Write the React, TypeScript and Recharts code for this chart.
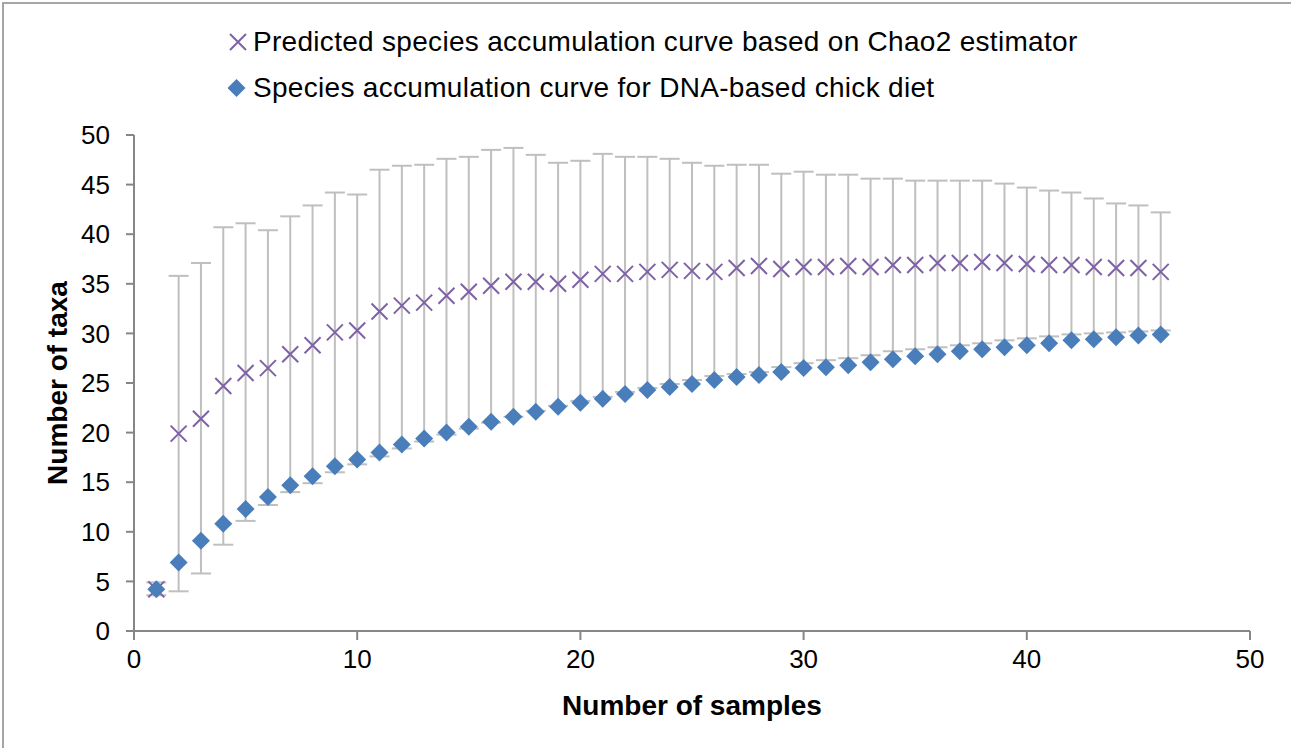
import { ScatterChart, Scatter, XAxis, YAxis, ErrorBar, Legend } from "recharts";

const samples = [
  1, 2, 3, 4, 5, 6, 7, 8, 9, 10, 11, 12, 13, 14, 15, 16, 17, 18, 19, 20, 21, 22, 23,
  24, 25, 26, 27, 28, 29, 30, 31, 32, 33, 34, 35, 36, 37, 38, 39, 40, 41, 42, 43, 44, 45, 46,
];

// observed taxa (diamonds)
const observed = [
  4.2, 6.9, 9.1, 10.8, 12.3, 13.5, 14.7, 15.6, 16.6, 17.3, 18.0, 18.8, 19.4, 20.0, 20.6, 21.1,
  21.6, 22.1, 22.6, 23.0, 23.4, 23.9, 24.3, 24.6, 24.9, 25.3, 25.6, 25.8, 26.1, 26.5, 26.6, 26.8,
  27.1, 27.4, 27.7, 27.9, 28.2, 28.4, 28.6, 28.8, 29.0, 29.3, 29.4, 29.6, 29.8, 29.9,
];

// Chao2 estimate (crosses)
const chao2 = [
  4.2, 19.9, 21.4, 24.7, 26.0, 26.5, 27.9, 28.8, 30.1, 30.3, 32.2, 32.8, 33.1, 33.8, 34.2, 34.8,
  35.2, 35.2, 35.0, 35.4, 36.0, 36.0, 36.2, 36.4, 36.3, 36.2, 36.6, 36.8, 36.5, 36.7, 36.7, 36.8,
  36.7, 36.9, 36.9, 37.1, 37.1, 37.2, 37.1, 37.0, 36.9, 36.9, 36.7, 36.6, 36.6, 36.2,
];

const chao2Lower = [
  3.6, 4.0, 5.8, 8.7, 11.1, 12.7, 14.0, 14.9, 16.0, 16.8, 17.6, 18.4, 19.1, 19.8, 20.4, 21.0,
  21.6, 22.2, 22.7, 23.2, 23.6, 24.1, 24.5, 24.9, 25.3, 25.7, 25.9, 26.1, 26.6, 27.0, 27.3, 27.5,
  27.8, 28.2, 28.4, 28.6, 28.8, 29.0, 29.3, 29.5, 29.7, 29.9, 30.0, 30.1, 30.2, 30.3,
];

const chao2Upper = [
  4.9, 35.8, 37.1, 40.7, 41.1, 40.4, 41.8, 42.9, 44.2, 44.0, 46.5, 46.9, 47.0, 47.6, 47.8, 48.5,
  48.7, 48.0, 47.2, 47.4, 48.1, 47.8, 47.8, 47.6, 47.2, 46.9, 47.0, 47.0, 46.1, 46.3, 46.0, 46.0,
  45.6, 45.6, 45.4, 45.4, 45.4, 45.4, 45.1, 44.7, 44.4, 44.2, 43.6, 43.1, 42.9, 42.2,
];

const xTicks = [0, 10, 20, 30, 40, 50];
const yTicks = [0, 5, 10, 15, 20, 25, 30, 35, 40, 45, 50];

const chaoName = "Predicted species accumulation curve based on Chao2 estimator";
const obsName = "Species accumulation curve for DNA-based chick diet";

const BLUE = "#4A7EBB";
const PURPLE = "#7F62A6";
const BAR = "#BFBFBF";
const AXIS = "#868686";
const FONT = '"Liberation Sans", Arial, sans-serif';

const chaoData = samples.map((n, i) => ({
  x: n,
  y: chao2[i],
  err: [chao2[i] - chao2Lower[i], chao2Upper[i] - chao2[i]],
}));
const obsData = samples.map((n, i) => ({ x: n, y: observed[i] }));

const Cross = ({ cx, cy }: any) => (
  <path
    d={`M${cx - 8},${cy - 8}L${cx + 8},${cy + 8}M${cx - 8},${cy + 8}L${cx + 8},${cy - 8}`}
    stroke={PURPLE}
    strokeWidth={2}
    fill="none"
  />
);

const Diamond = ({ cx, cy }: any) => (
  <path d={`M${cx},${cy - 9}L${cx + 9},${cy}L${cx},${cy + 9}L${cx - 9},${cy}Z`} fill={BLUE} />
);

function LegendBox() {
  return (
    <svg width={900} height={90} style={{ display: "block" }}>
      <Cross cx={10} cy={22} />
      <text x={25} y={31} fontSize={28} fontFamily={FONT} fill="#000" letterSpacing={0.3}>
        {chaoName}
      </text>
      <Diamond cx={8.5} cy={68} />
      <text x={25} y={77} fontSize={28} fontFamily={FONT} fill="#000" letterSpacing={0.3}>
        {obsName}
      </text>
    </svg>
  );
}

export default function App() {
  return (
    <div
      style={{
        position: "absolute",
        left: 0,
        top: 0,
        width: 1291,
        height: 748,
        overflow: "hidden",
        background: "#fff",
      }}
    >
      <div
        style={{
          position: "absolute",
          left: 2,
          top: 2,
          width: 1400,
          height: 900,
          border: "2px solid #A6A6A6",
        }}
      />
      <ScatterChart width={1291} height={748} margin={{ top: 135, right: 41, bottom: 0, left: 0 }}>
        <XAxis
          type="number"
          dataKey="x"
          domain={[0, 50]}
          ticks={xTicks}
          stroke={AXIS}
          strokeWidth={2}
          tickSize={9}
          tickMargin={10}
          height={117}
          tick={{ fill: "#000", fontSize: 26, fontFamily: FONT }}
          label={{
            content: ({ viewBox }: any) => (
              <text
                x={viewBox.x + viewBox.width / 2}
                y={viewBox.y + 84}
                textAnchor="middle"
                fontSize={28}
                fontWeight="bold"
                fontFamily={FONT}
                fill="#000"
              >
                Number of samples
              </text>
            ),
          }}
        />
        <YAxis
          type="number"
          dataKey="y"
          domain={[0, 50]}
          ticks={yTicks}
          stroke={AXIS}
          strokeWidth={2}
          tickSize={8}
          tickMargin={16}
          width={134}
          tick={{ fill: "#000", fontSize: 26, fontFamily: FONT }}
          label={{
            content: ({ viewBox }: any) => {
              const cx = 57;
              const cy = viewBox.y + viewBox.height / 2;
              return (
                <text
                  x={cx}
                  y={cy}
                  transform={`rotate(-90, ${cx}, ${cy})`}
                  textAnchor="middle"
                  dominantBaseline="central"
                  fontSize={28}
                  fontWeight="bold"
                  fontFamily={FONT}
                  fill="#000"
                >
                  Number of taxa
                </text>
              );
            },
          }}
        />
        <Legend
          layout="vertical"
          align="center"
          verticalAlign="middle"
          wrapperStyle={{ position: "absolute", left: 228, top: 20, width: 900 }}
          content={() => <LegendBox />}
        />
        <Scatter name={chaoName} data={chaoData} shape={<Cross />} isAnimationActive={false}>
          <ErrorBar
            dataKey="err"
            direction="y"
            width={10}
            stroke={BAR}
            strokeWidth={2}
            isAnimationActive={false}
          />
        </Scatter>
        <Scatter name={obsName} data={obsData} shape={<Diamond />} isAnimationActive={false} />
      </ScatterChart>
    </div>
  );
}
